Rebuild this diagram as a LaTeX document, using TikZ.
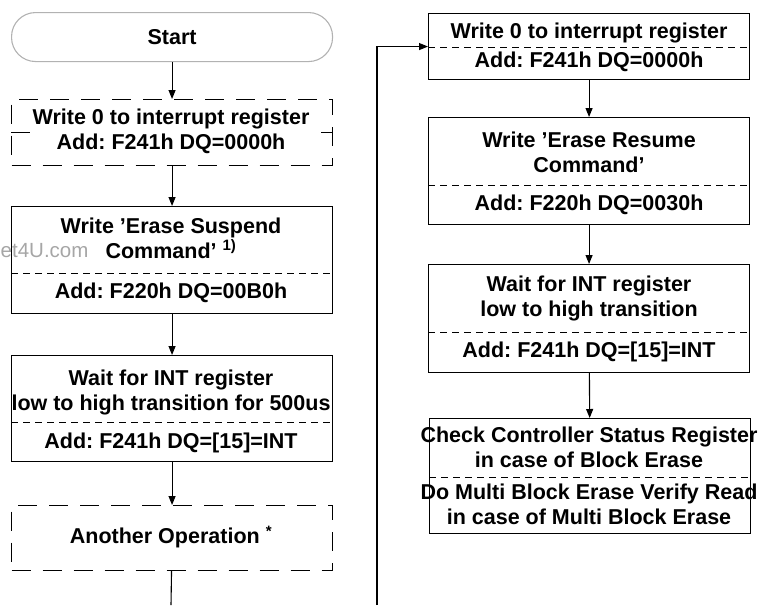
\documentclass[tikz,border=0pt]{standalone}
\usepackage{fontspec}
\setmainfont{Liberation Sans}
\usetikzlibrary{arrows.meta}
\frenchspacing
\begin{document}
\begin{tikzpicture}[x=1pt,y=-1pt,
  line width=1.1pt,
  box/.style={draw, minimum width=321pt, inner sep=0pt, anchor=north west},
  dbox/.style={box, dash pattern=on 19pt off 12pt},
  sep/.style={line width=0.9pt, dash pattern=on 7pt off 5pt},
  txt/.style={font=\bfseries\fontsize{21.5}{25}\selectfont, align=center, inner sep=1pt},
  arr/.style={-{Triangle[width=7pt,length=9pt]}}
]
\useasboundingbox (0,0) rectangle (759,605);
% left column
\node[box, draw=gray!60, rounded corners=24pt, minimum height=49pt, font=\bfseries\fontsize{21.5}{25}\selectfont] (start) at (11,12) {Start};
\node[dbox, minimum height=66pt] (l1) at (11,99) {};
\draw[sep, dash pattern=on 19pt off 12pt] (l1.west) -- (l1.east);
\node[txt, fill=white] (l1t) at (171,131.5) {Write 0 to interrupt register\\Add: F241h DQ=0000h};
\node[box, minimum height=107pt] (l2) at (11,206) {};
\draw[sep] (l2.west |- 0,273) -- (l2.east |- 0,273);
\node[txt] (l2a) at (171,238) {Write ’Erase Suspend\\Command’ \textsuperscript{1)}};
\node[txt] (l2b) at (171,293) {Add: F220h DQ=00B0h};
\node[font=\fontsize{20.5}{22}\selectfont, text=gray!70, anchor=east, inner sep=0pt] (wm) at (89,251) {et4U.com};
\node[box, minimum height=106pt] (l3) at (11,355) {};
\draw[sep] (l3.west |- 0,422) -- (l3.east |- 0,422);
\node[txt] (l3a) at (171,392.5) {Wait for INT register\\low to high transition for 500us};
\node[txt] (l3b) at (171,443) {Add: F241h DQ=[15]=INT};
\node[dbox, minimum height=65pt] (l4) at (11,505) {};
\node[txt] (l4t) at (171,537) {Another Operation \textsuperscript{*}};
\coordinate (endL) at (171,605);
\draw[arr] (start) -- (l1);
\draw[arr] (l1) -- (l2);
\draw[arr] (l2) -- (l3);
\draw[arr] (l3) -- (l4);
\draw (l4) -- (endL);
% right column
\node[box, minimum height=66pt] (r1) at (428,13) {};
\draw[sep] (r1.west |- 0,47) -- (r1.east |- 0,47);
\node[txt] (r1a) at (589,33) {Write 0 to interrupt register};
\node[txt] (r1b) at (589,62) {Add: F241h DQ=0000h};
\node[box, minimum height=107pt] (r2) at (428,117) {};
\draw[sep] (r2.west |- 0,185) -- (r2.east |- 0,185);
\node[txt] (r2a) at (589,152.5) {Write ’Erase Resume\\Command’};
\node[txt] (r2b) at (589,205) {Add: F220h DQ=0030h};
\node[box, minimum height=108pt] (r3) at (428,264) {};
\draw[sep] (r3.west |- 0,332) -- (r3.east |- 0,332);
\node[txt] (r3a) at (589,298) {Wait for INT register\\low to high transition};
\node[txt] (r3b) at (589,352) {Add: F241h DQ=[15]=INT};
\node[box, minimum height=115pt] (r4) at (429,418) {};
\draw[sep] (r4.west |- 0,477) -- (r4.east |- 0,477);
\node[txt] (r4a) at (589,447) {Check Controller Status Register\\in case of Block Erase};
\node[txt] (r4b) at (589,504) {Do Multi Block Erase Verify Read\\in case of Multi Block Erase};
\coordinate (loopB) at (377,605);
\draw[arr] (loopB) |- (r1.west);
\draw[arr] (r1) -- (r2);
\draw[arr] (r2) -- (r3);
\draw[arr] (r3) -- (r4);
\end{tikzpicture}
\end{document}
